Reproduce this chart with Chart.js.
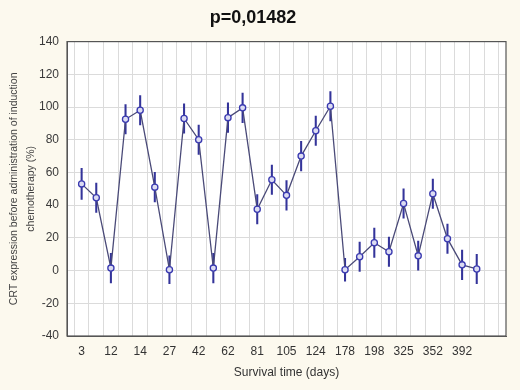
<!DOCTYPE html>
<html lang="en">
<head>
<meta charset="UTF-8">
<title>CRT expression vs survival time</title>
<script src="https://cdn.jsdelivr.net/npm/chart.js"></script>
<style>
  html, body { margin: 0; padding: 0; background: #fcf9ee; }
  #wrap { width: 520px; height: 390px; }
</style>
</head>
<body>
<div id="wrap"><canvas id="chart" width="520" height="390"></canvas></div>
<script>
// survival time labels (only every other one is printed on the axis)
const dayLabels = ['3', '', '12', '', '14', '', '27', '', '42', '', '62', '', '81', '',
                   '105', '', '124', '', '178', '', '198', '', '325', '', '352', '', '392', ''];
// mean CRT expression (%)
const crtMeans = [53, 44.5, 1.5, 92.5, 98, 51, 0.5, 93, 80, 1.5, 93.5, 99.5, 37.5, 55.5,
                  46, 70, 85.5, 100.5, 0.5, 8.5, 17, 11.5, 41, 9, 47, 19.5, 3.5, 1];
// half-width of the error bars
const crtErr = [9.5, 9, 9, 9, 9, 9, 8.5, 9, 9, 9, 9, 9, 9, 9,
                9, 9, 9, 9, 7, 9, 9, 9, 9, 9, 9, 9, 9, 9];
const yTicks = [-40, -20, 0, 20, 40, 60, 80, 100, 120, 140];

const linePoints = crtMeans.map((v, i) => ({ x: i + 1, y: v }));
const errPoints = crtMeans.map((v, i) => ({ x: i + 1, y: [v - crtErr[i], v + crtErr[i]] }));

const frame = {
  id: 'frame',
  beforeDraw(chart) {
    const { ctx, chartArea: a } = chart;
    ctx.save();
    ctx.fillStyle = '#ffffff';
    ctx.fillRect(a.left, a.top, a.right - a.left, a.bottom - a.top);
    ctx.restore();
  },
  afterDraw(chart) {
    const { ctx, chartArea: a } = chart;
    ctx.save();
    ctx.strokeStyle = '#555555';
    ctx.lineWidth = 1.2;
    ctx.strokeRect(a.left, a.top, a.right - a.left, a.bottom - a.top);
    ctx.restore();
  }
};

const font = 'Arial, Liberation Sans, sans-serif';

new Chart(document.getElementById('chart').getContext('2d'), {
  type: 'line',
  data: {
    datasets: [
      {
        type: 'line',
        data: linePoints,
        borderColor: '#4a4a78',
        borderWidth: 1.3,
        pointRadius: 3.1,
        pointBorderWidth: 1.3,
        pointBorderColor: '#3a3ab0',
        pointBackgroundColor: '#dcdcf2',
        tension: 0,
        order: 1
      },
      {
        type: 'bar',
        data: errPoints,
        backgroundColor: '#34349a',
        borderWidth: 0,
        barThickness: 1.4,
        grouped: false,
        order: 2
      }
    ]
  },
  options: {
    responsive: false,
    animation: false,
    layout: { padding: { left: 0, right: 14, top: 0, bottom: 0 } },
    plugins: {
      legend: { display: false },
      tooltip: { enabled: false },
      title: {
        display: true,
        text: 'p=0,01482',
        color: '#111111',
        font: { family: font, size: 18, weight: 'bold' },
        padding: { top: 7, bottom: 13 }
      }
    },
    scales: {
      x: {
        type: 'linear',
        min: 0,
        max: 30,
        offset: false,
        afterFit(scale) { scale.height = 54; },
        afterBuildTicks(scale) {
          scale.ticks = [];
          for (let i = 0; i <= 30; i++) scale.ticks.push({ value: i });
        },
        ticks: {
          autoSkip: false,
          maxRotation: 0,
          color: '#333333',
          padding: 8,
          font: { family: font, size: 12 },
          callback: v => dayLabels[v - 1] || ''
        },
        grid: { color: '#dbdbdb', drawTicks: false },
        border: { color: '#555555' },
        title: {
          display: true,
          text: 'Survival time (days)',
          color: '#333333',
          font: { family: font, size: 12 },
          padding: { top: 0, bottom: 10 }
        }
      },
      y: {
        min: -40,
        max: 140,
        afterFit(scale) { scale.width = 67; },
        afterBuildTicks(scale) { scale.ticks = yTicks.map(v => ({ value: v })); },
        ticks: {
          color: '#3a3a3a',
          padding: 8,
          font: { family: font, size: 12 }
        },
        grid: { color: '#dbdbdb', drawTicks: false },
        border: { color: '#555555' },
        title: {
          display: true,
          text: ['CRT expression before administration of induction', 'chemotherapy (%)'],
          color: '#444444',
          font: { family: font, size: 10.5, lineHeight: 1.62 },
          padding: { top: 5.5, bottom: 0 }
        }
      }
    }
  },
  plugins: [frame]
});
</script>
</body>
</html>
